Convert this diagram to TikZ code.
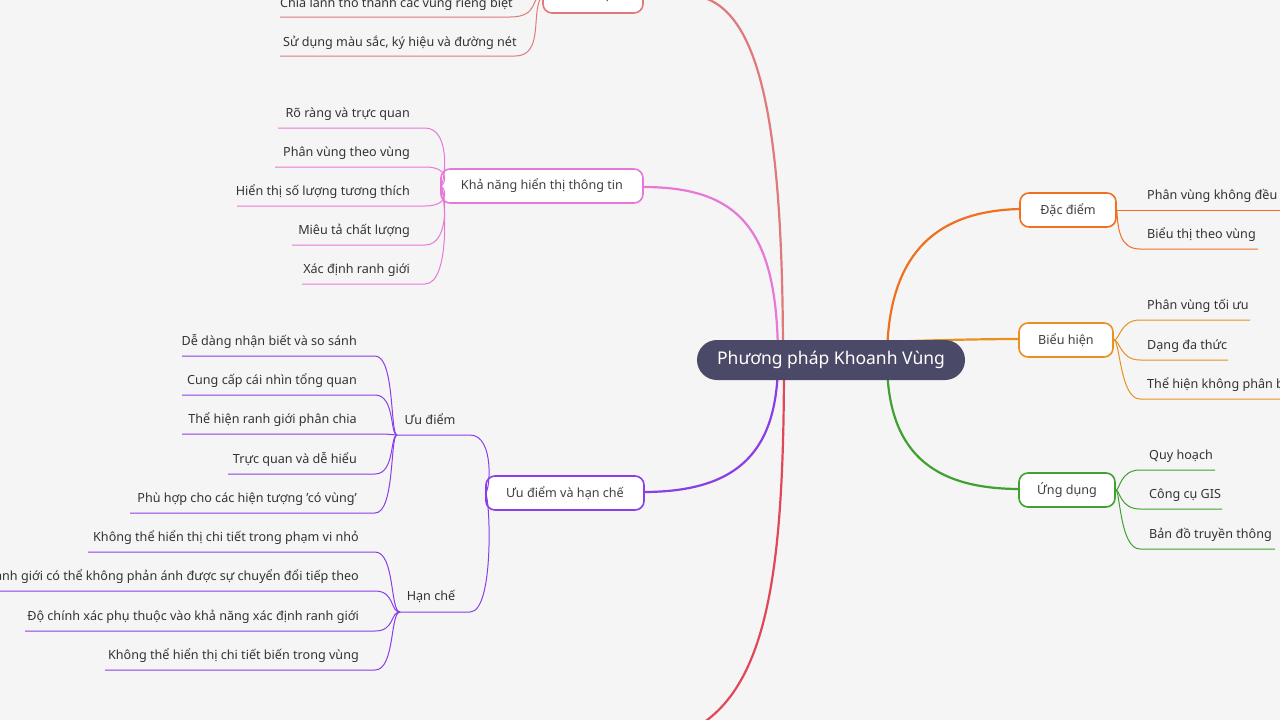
\documentclass[tikz,border=0pt]{standalone}
\usepackage{fontspec}
\setmainfont{Noto Sans}
\begin{document}
\begin{tikzpicture}[x=1pt,y=-1pt,
  sub/.style={draw=#1,line width=1.6pt,rounded corners=9pt,fill=white,minimum height=34pt,inner xsep=10pt,font=\fontsize{12.6}{15}\selectfont,text=black!75},
  lf/.style={font=\fontsize{12.6}{15}\selectfont,text=black!80,inner sep=0pt},
  br/.style={draw=#1,line width=2.2pt},
  tw/.style={draw=#1,line width=1pt}]
\fill[black!4] (0,0) rectangle (1280,720);
\clip (0,0) rectangle (1280,720);
\definecolor{cK}{HTML}{E07A7A}\definecolor{cP}{HTML}{E878D8}\definecolor{cU}{HTML}{8A3EE8}
\definecolor{cB}{HTML}{E04858}\definecolor{cO}{HTML}{F07020}\definecolor{cY}{HTML}{E89020}\definecolor{cG}{HTML}{40A030}
% main branches
\draw[br=cK] (783,360) .. controls (783,120) and (760,0) .. (690,-5);
\draw[br=cP] (778,360) .. controls (778,230) and (740,187) .. (643,187);
\draw[br=cU] (778,360) .. controls (778,450) and (740,492) .. (643,492);
\draw[br=cB] (784,360) .. controls (784,560) and (770,680) .. (700,725);
\draw[br=cO] (887,360) .. controls (887,260) and (930,211) .. (1020,209);
\draw[br=cY] (887,342) .. controls (930,340) and (990,339) .. (1020,339);
\draw[br=cG] (887,360) .. controls (887,450) and (930,489) .. (1020,489);
\node[fill={rgb,255:red,74;green,74;blue,104},rounded corners=20pt,minimum width=268pt,minimum height=40pt,text=white,font=\fontsize{17.5}{20}\selectfont] (c) at (831,360) {Phương pháp Khoanh Vùng};
% Khai niem
\node[sub=cK,minimum width=100pt] (kn) at (593,-4) {Khái niệm};
\draw[tw=cK] (kn.west) .. controls (530,-4) and (540,17) .. (510,17) -- (280,17);
\node[lf,anchor=base west] at (280,8) {Chia lãnh thổ thành các vùng riêng biệt};
\draw[tw=cK] (kn.west) .. controls (530,10) and (545,56) .. (515,56) -- (280,56);
\node[lf,anchor=base west] at (283,46) {Sử dụng màu sắc, ký hiệu và đường nét};
% Kha nang
\node[sub=cP,minimum width=202pt] (kh) at (542,186) {Khả năng hiển thị thông tin};
\foreach \y/\xs/\t in {128/278/Rõ ràng và trực quan,167/275/Phân vùng theo vùng,206/237/Hiển thị số lượng tương thích,245/292/Miêu tả chất lượng,284/302/Xác định ranh giới}{
  \draw[tw=cP] (kh.west) .. controls (445,186) and (452,\y) .. (425,\y) -- (\xs,\y);
  \node[lf,anchor=base east] at (410,\y-11) {\t};}
% Uu diem va han che
\node[sub=cU,minimum width=158pt] (ud) at (565,493) {Ưu điểm và hạn chế};
\node[lf] (ue) at (430,419) {Ưu điểm};
\node[lf] (hc) at (431,596) {Hạn chế};
\draw[tw=cU] (ud.west) .. controls (490,493) and (495,435) .. (470,435) -- (397,435);
\draw[tw=cU] (ud.west) .. controls (490,493) and (495,612) .. (470,612) -- (400,612);
\foreach \y/\xs/\t in {356/182/Dễ dàng nhận biết và so sánh,395/182/Cung cấp cái nhìn tổng quan,434/182/Thể hiện ranh giới phân chia,474/228/Trực quan và dễ hiểu,513/130/Phù hợp cho các hiện tượng 'có vùng'}{
  \draw[tw=cU] (397,435) .. controls (390,435) and (395,\y) .. (375,\y) -- (\xs,\y);
  \node[lf,anchor=base east] at (357,\y-11) {\t};}
\foreach \y/\xs/\t in {552/88/Không thể hiển thị chi tiết trong phạm vi nhỏ,591/-5/Ranh giới có thể không phản ánh được sự chuyển đổi tiếp theo,631/25/Độ chính xác phụ thuộc vào khả năng xác định ranh giới,670/105/Không thể hiển thị chi tiết biến trong vùng}{
  \draw[tw=cU] (400,612) .. controls (390,612) and (395,\y) .. (375,\y) -- (\xs,\y);
  \node[lf,anchor=base east] at (359,\y-11) {\t};}
% right
\node[sub=cO,minimum width=96pt] (dd) at (1068,210) {Đặc điểm};
\node[sub=cY,minimum width=94pt] (bh) at (1066,340) {Biểu hiện};
\node[sub=cG,minimum width=96pt] (ap) at (1067,490) {Ứng dụng};
\draw[tw=cO] (dd.east) -- (1290,210);
\node[lf,anchor=base west] at (1147,199) {Phân vùng không đều};
\draw[tw=cO] (dd.east) .. controls (1118,230) and (1120,249) .. (1140,249) -- (1258,249);
\node[lf,anchor=base west] at (1147,238) {Biểu thị theo vùng};
\foreach \y/\xe/\t in {320/1250/Phân vùng tối ưu,360/1228/Dạng đa thức,399/1290/Thể hiện không phân biệt}{
  \draw[tw=cY] (bh.east) .. controls (1120,340) and (1120,\y) .. (1140,\y) -- (\xe,\y);
  \node[lf,anchor=base west] at (1147,\y-11) {\t};}
\foreach \y/\xe/\t in {470/1215/Quy hoạch,509/1222/Công cụ GIS,549/1275/Bản đồ truyền thông}{
  \draw[tw=cG] (ap.east) .. controls (1120,490) and (1120,\y) .. (1140,\y) -- (\xe,\y);
  \node[lf,anchor=base west] at (1149,\y-11) {\t};}
\end{tikzpicture}
\end{document}
